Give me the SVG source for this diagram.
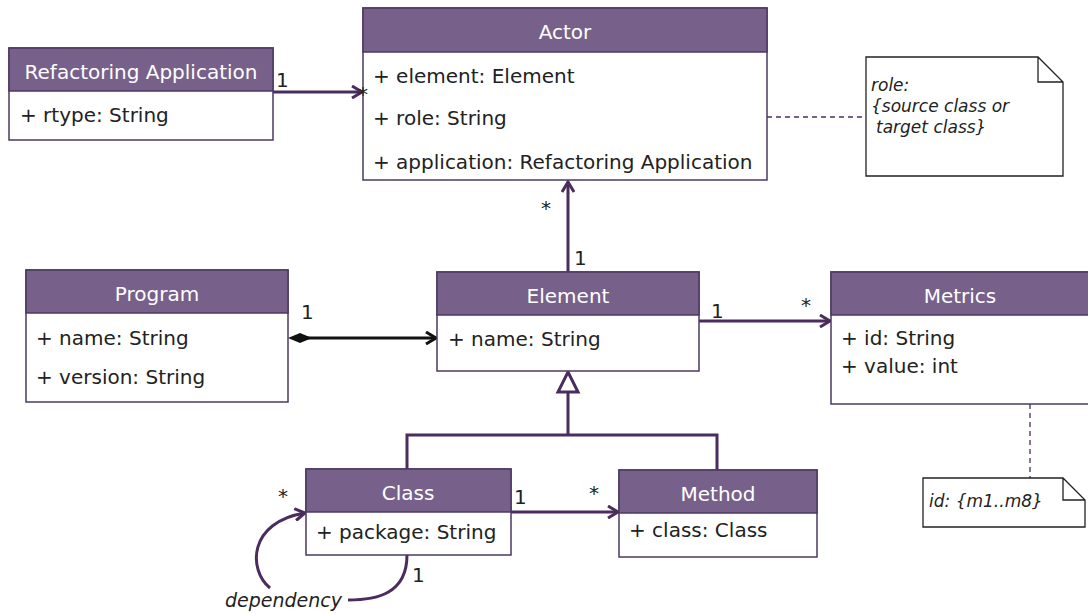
<svg xmlns="http://www.w3.org/2000/svg" width="1088" height="614" viewBox="0 0 1088 614">
<style>
.box{fill:#fff;stroke:#4b3862;stroke-width:1.5}
.hdr{fill:#77618a;stroke:#4b3862;stroke-width:1.5}
.ht{font-family:"DejaVu Sans",sans-serif;font-size:20px;fill:#fff;text-anchor:middle}
.at{font-family:"DejaVu Sans",sans-serif;font-size:20px;fill:#222}
.lbl{font-family:"DejaVu Sans",sans-serif;font-size:20px;fill:#222}
.nt{font-family:"DejaVu Sans",sans-serif;font-size:17px;font-style:italic;fill:#222}
.dep{font-family:"DejaVu Sans",sans-serif;font-size:19px;font-style:italic;fill:#222}
.note{fill:#fff;stroke:#222;stroke-width:1.3}
.c{fill:none;stroke:#4a2d5e;stroke-width:3}
.d{fill:none;stroke:#4a2d5e;stroke-width:1.3;stroke-dasharray:5,4}
</style>
<defs>
<marker id="open" markerWidth="14" markerHeight="14" refX="11" refY="7" orient="auto" markerUnits="userSpaceOnUse">
<path d="M1,1 L11,7 L1,13" fill="none" stroke="#4a2d5e" stroke-width="3"/>
</marker>
<marker id="openb" markerWidth="14" markerHeight="14" refX="11" refY="7" orient="auto" markerUnits="userSpaceOnUse">
<path d="M1,1 L11,7 L1,13" fill="none" stroke="#111" stroke-width="3"/>
</marker>
</defs>

<g id="connectors">
<line class="c" x1="273" y1="92" x2="362" y2="92" marker-end="url(#open)"/>
<line class="c" x1="568" y1="272" x2="568" y2="182" marker-end="url(#open)"/>
<line x1="300" y1="338" x2="436" y2="338" stroke="#111" stroke-width="3" marker-end="url(#openb)"/>
<path d="M288,338 L300,333 L312,338 L300,343 Z" fill="#111"/>
<line class="c" x1="699" y1="321" x2="830" y2="321" marker-end="url(#open)"/>
<path class="c" d="M568,392 L568,435 M407,469 L407,435 L717,435 L717,470"/>
<path d="M568,372 L578,392 L558,392 Z" fill="#fff" stroke="#4a2d5e" stroke-width="3"/>
<line class="c" x1="511" y1="512" x2="618" y2="512" marker-end="url(#open)"/>
<path class="c" d="M407,555 C407,595 375,600 348,600 M270,588 C248,570 248,522 305,513" marker-end="url(#open)"/>
<line class="d" x1="767" y1="117" x2="866" y2="117"/>
<line class="d" x1="1030" y1="404" x2="1030" y2="478"/>
</g>

<g id="refactoring-application">
<rect class="box" x="9" y="48" width="264" height="92"/>
<rect class="hdr" x="9" y="48" width="264" height="43"/>
<text class="ht" x="141" y="79">Refactoring Application</text>
<text class="at" x="20" y="122">+ rtype: String</text>
</g>

<g id="actor">
<rect class="box" x="363" y="8" width="404" height="172"/>
<rect class="hdr" x="363" y="8" width="404" height="44"/>
<text class="ht" x="565" y="39">Actor</text>
<text class="at" x="373" y="83">+ element: Element</text>
<text class="at" x="373" y="125">+ role: String</text>
<text class="at" x="373" y="169">+ application: Refactoring Application</text>
</g>

<g id="note-role">
<path class="note" d="M866,57 L1038,57 L1063,82 L1063,176 L866,176 Z M1038,57 L1038,82 L1063,82"/>
<text class="nt" x="871" y="91">role:</text>
<text class="nt" x="871" y="112">{source class or</text>
<text class="nt" x="876" y="133">target class}</text>
</g>

<g id="program">
<rect class="box" x="26" y="270" width="262" height="132"/>
<rect class="hdr" x="26" y="270" width="262" height="43"/>
<text class="ht" x="157" y="301">Program</text>
<text class="at" x="36" y="345">+ name: String</text>
<text class="at" x="36" y="384">+ version: String</text>
</g>

<g id="element">
<rect class="box" x="437" y="272" width="262" height="99"/>
<rect class="hdr" x="437" y="272" width="262" height="43"/>
<text class="ht" x="568" y="303">Element</text>
<text class="at" x="448" y="346">+ name: String</text>
</g>

<g id="metrics">
<rect class="box" x="831" y="272" width="262" height="132"/>
<rect class="hdr" x="831" y="272" width="262" height="43"/>
<text class="ht" x="960" y="303">Metrics</text>
<text class="at" x="841" y="345">+ id: String</text>
<text class="at" x="841" y="373">+ value: int</text>
</g>

<g id="note-id">
<path class="note" d="M923,478 L1063,478 L1085,500 L1085,527 L923,527 Z M1063,478 L1063,500 L1085,500"/>
<text class="nt" x="929" y="507">id: {m1..m8}</text>
</g>

<g id="class">
<rect class="box" x="306" y="469" width="205" height="86"/>
<rect class="hdr" x="306" y="469" width="205" height="43"/>
<text class="ht" x="408" y="500">Class</text>
<text class="at" x="316" y="539">+ package: String</text>
</g>

<g id="method">
<rect class="box" x="619" y="470" width="198" height="87"/>
<rect class="hdr" x="619" y="470" width="198" height="43"/>
<text class="ht" x="718" y="501">Method</text>
<text class="at" x="629" y="537">+ class: Class</text>
</g>

<g id="labels">
<text class="lbl" x="276" y="87">1</text>
<text class="lbl" x="358" y="101">*</text>
<text class="lbl" x="541" y="215">*</text>
<text class="lbl" x="574" y="265">1</text>
<text class="lbl" x="301" y="319">1</text>
<text class="lbl" x="711" y="318">1</text>
<text class="lbl" x="801" y="312">*</text>
<text class="lbl" x="514" y="504">1</text>
<text class="lbl" x="589" y="500">*</text>
<text class="lbl" x="278" y="503">*</text>
<text class="lbl" x="412" y="582">1</text>
<text class="dep" x="225" y="607">dependency</text>
</g>
</svg>
